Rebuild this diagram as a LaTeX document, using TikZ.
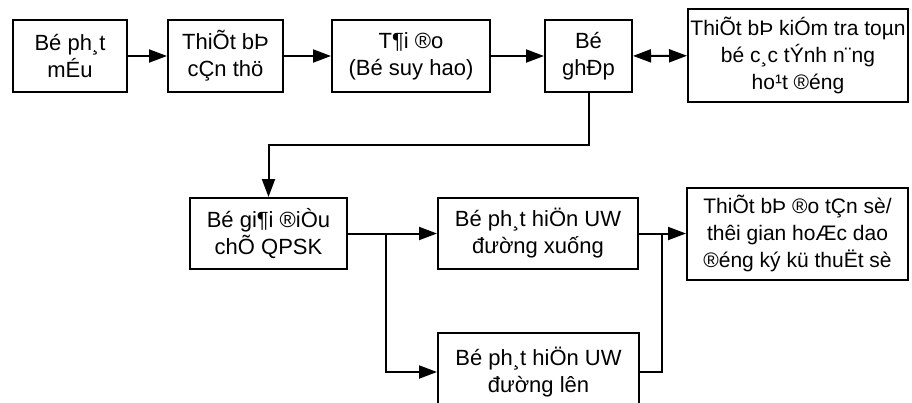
\documentclass[tikz,border=0pt]{standalone}
\usepackage{fontspec}
\setmainfont{Liberation Sans}
\usetikzlibrary{arrows.meta}
\tikzset{
  blk/.style={draw,line width=2pt,align=center,inner sep=0pt,
    font=\fontsize{22}{27}\selectfont},
  wire/.style={line width=2pt},
  arr/.style={wire,-{Triangle[length=18pt,width=13pt]}},
  darr/.style={wire,{Triangle[length=18pt,width=13pt]}-{Triangle[length=18pt,width=13pt]}},
}
\begin{document}
\begin{tikzpicture}[x={(1pt,0pt)},y={(0pt,-1pt)}]
    \useasboundingbox (0,0) rectangle (912,402);
    % top row
    \node[blk,minimum width=114pt,minimum height=72pt] (samp) at (70,56) {Bé ph¸t\\mÉu};
    \node[blk,minimum width=115pt,minimum height=72pt] (need) at (225.5,56) {ThiÕt bÞ\\cÇn thö};
    \node[blk,minimum width=158pt,minimum height=72pt] (load) at (411,56) {T¶i ®o\\(Bé suy hao)};
    \node[blk,minimum width=87pt,minimum height=72pt] (coup) at (588.5,56) {Bé\\ghÐp};
    \node[blk,minimum width=220pt,minimum height=93pt,font=\fontsize{21}{27}\selectfont] (test) at (798,55.5) {ThiÕt bÞ kiÓm tra toµn\\bé c¸c tÝnh n¨ng\\ho¹t ®éng};
    % second row
    \node[blk,minimum width=157pt,minimum height=71pt] (demod) at (268.5,233.5) {Bé gi¶i ®iÒu\\chÕ QPSK};
    \node[blk,minimum width=200pt,minimum height=71pt] (uwdn) at (538,233.5) {Bé ph¸t hiÖn UW\\đường xuống};
    \node[blk,minimum width=221pt,minimum height=92pt,font=\fontsize{21}{27}\selectfont] (meas) at (797.5,233.5) {ThiÕt bÞ ®o tÇn sè/\\thêi gian hoÆc dao\\®éng ký kü thuËt sè};
    \node[blk,minimum width=201pt,minimum height=78pt] (uwup) at (538.5,372) {Bé ph¸t hiÖn UW\\đường lên};

    \coordinate (bend) at (0,145);
    \coordinate (split) at (386,233.5);
    \coordinate (merge) at (662,233.5);

    \draw[arr] (samp) -- (need);
    \draw[arr] (need) -- (load);
    \draw[arr] (load) -- (coup);
    \draw[darr] (coup) -- (test);
    \draw[arr] (coup.south) -- (coup.south |- bend) -| (demod.north);
    \draw[arr] (demod) -- (uwdn);
    \draw[arr] (split) |- (uwup.west);
    \draw[arr] (uwdn) -- (meas);
    \draw[wire] (uwup.east) -| (merge);
\end{tikzpicture}
\end{document}
